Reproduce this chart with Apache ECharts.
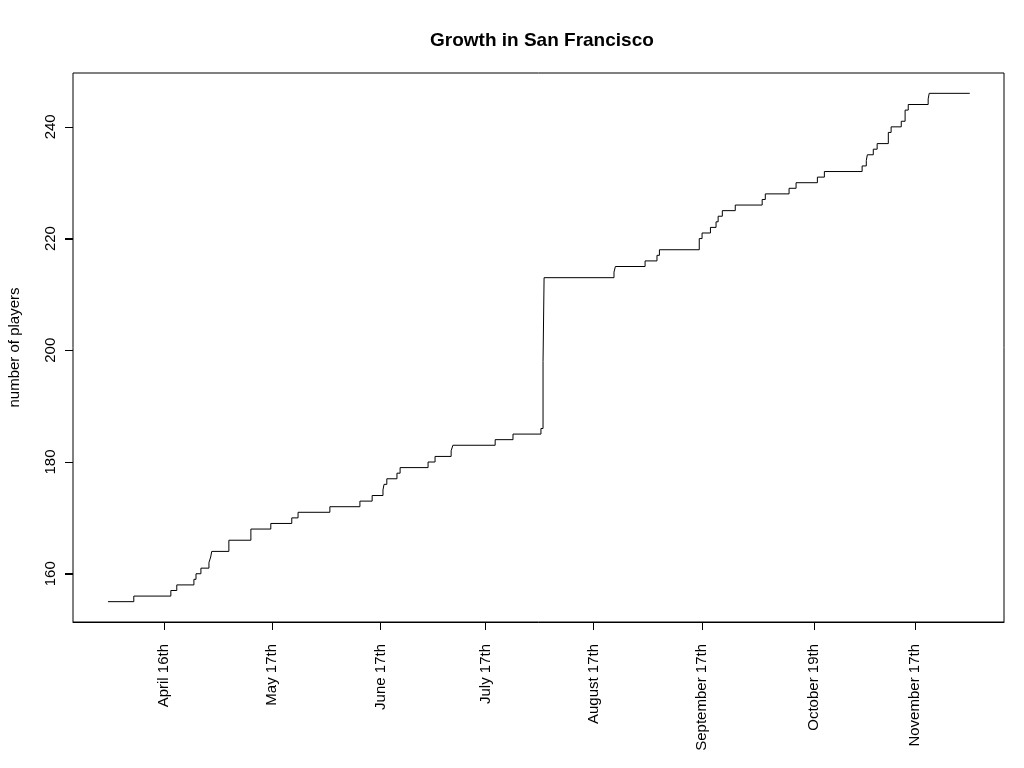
<!DOCTYPE html>
<html>
<head>
<meta charset="utf-8">
<script src="https://cdn.jsdelivr.net/npm/echarts@6/dist/echarts.min.js"></script>
<style>html,body{margin:0;padding:0;background:#fff;}#c{width:1024px;height:768px;}</style>
</head>
<body>
<div id="c"></div>
<script>
// days since March 21st at which the player count changes (April 16th = day 26)
var days = [10.0, 17.4, 28.0, 29.7, 34.6, 35.2, 36.6, 38.9, 39.4, 39.7, 44.6, 50.9, 56.6, 62.6, 64.4, 73.5, 82.1, 85.6, 88.7, 89.0, 89.8, 92.7, 93.6, 101.6, 103.6, 108.2, 108.7, 120.8, 125.9, 133.9, 134.5, 134.8, 154.8, 155.2, 163.7, 167.1, 167.8, 179.2, 180.0, 182.4, 184.0, 184.6, 185.8, 189.5, 197.2, 198.1, 204.9, 206.9, 213.0, 215.0, 225.8, 227.0, 227.3, 229.0, 230.1, 233.3, 234.1, 237.0, 238.1, 239.0, 244.7, 245.0, 256.6];
var players = [155, 156, 157, 158, 159, 160, 161, 162, 163, 164, 166, 168, 169, 170, 171, 172, 173, 174, 175, 176, 177, 178, 179, 180, 181, 182, 183, 184, 185, 186, 198, 213, 214, 215, 216, 217, 218, 220, 221, 222, 223, 224, 225, 226, 227, 228, 229, 230, 231, 232, 233, 234, 235, 236, 237, 239, 240, 241, 243, 244, 245, 246, 246];
// x tick positions (days since March 21st) and their labels
var tickDays = [26, 57, 88, 118, 149, 180, 212, 241];
var tickLabels = ["April 16th", "May 17th", "June 17th", "July 17th", "August 17th", "September 17th", "October 19th", "November 17th"];
var yTicks = [160, 180, 200, 220, 240];

var chart = echarts.init(document.getElementById('c'));
var seriesData = days.map(function (d, i) { return [d, players[i]]; });
var font = '"Liberation Sans", Arial, sans-serif';
chart.setOption({
  animation: false,
  backgroundColor: '#ffffff',
  title: {
    text: 'Growth in San Francisco',
    left: 425, top: 26,
    textStyle: { fontFamily: font, fontSize: 19, fontWeight: 'bold', color: '#000' }
  },
  grid: {
    left: 73, right: 20, top: 73, bottom: 146,
    containLabel: false, outerBoundsMode: 'none',
    show: true, borderColor: '#000', borderWidth: 1, backgroundColor: 'transparent'
  },
  xAxis: {
    type: 'value', min: 0, max: 266.4, position: 'bottom',
    axisLine: { show: true, lineStyle: { color: '#000', width: 1 } },
    splitLine: { show: false },
    axisTick: { show: true, length: 8, lineStyle: { color: '#000', width: 1 }, customValues: tickDays },
    axisLabel: {
      customValues: tickDays, rotate: 90, margin: 22,
      fontFamily: font, fontSize: 15, color: '#000',
      formatter: function (v) { var i = tickDays.indexOf(v); return i >= 0 ? tickLabels[i] : ''; }
    }
  },
  yAxis: {
    type: 'value', min: 151.36, max: 249.64,
    name: 'number of players', nameLocation: 'middle', nameGap: 51, nameRotate: 90,
    nameTextStyle: { fontFamily: font, fontSize: 15, color: '#000' },
    axisLine: { show: false },
    splitLine: { show: false },
    axisTick: { show: true, length: 8, lineStyle: { color: '#000', width: 1 }, customValues: yTicks },
    axisLabel: { customValues: yTicks, rotate: 90, margin: 15, fontFamily: font, fontSize: 15, color: '#000' }
  },
  series: [{
    type: 'line', step: 'end', data: seriesData, showSymbol: false, symbol: 'none',
    lineStyle: { color: '#000', width: 1 }
  }, {
    // y-axis tick marks, placed through the y scale at the left edge of the plot
    type: 'custom', silent: true, clip: false,
    data: yTicks.map(function (v) { return [0, v]; }),
    renderItem: function (params, api) {
      var y = Math.round(api.coord([api.value(0), api.value(1)])[1]) + 0.5;
      var x = params.coordSys.x;
      return {
        type: 'line',
        shape: { x1: x - 8, y1: y, x2: x, y2: y },
        style: { stroke: '#000', lineWidth: 1 }
      };
    }
  }]
});
</script>
</body>
</html>
